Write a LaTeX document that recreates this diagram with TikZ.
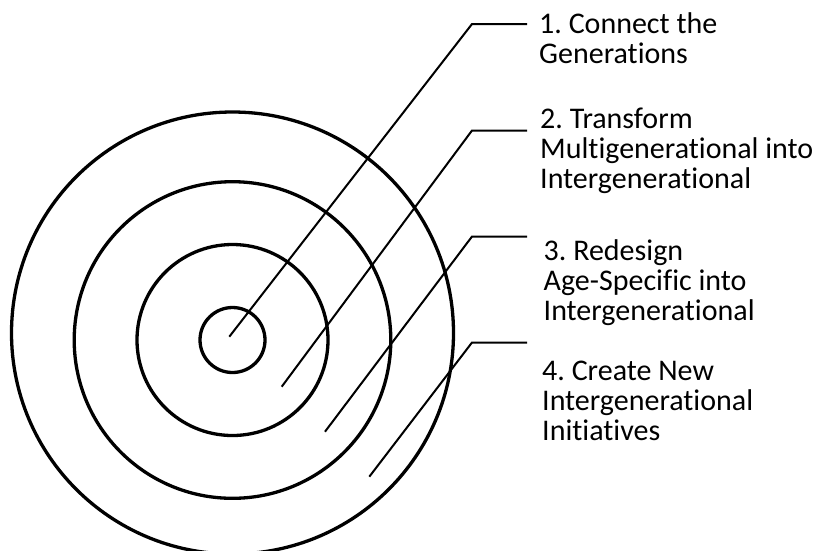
\documentclass[tikz,border=0pt]{standalone}
\usepackage{fontspec}
\setmainfont{Carlito}[Ligatures=NoCommon]
\usetikzlibrary{positioning}
\frenchspacing

\begin{document}
\begin{tikzpicture}[x=1pt, y=-1pt]
  \tikzset{ring/.style={draw, line width=3.3pt},
           leader/.style={draw, line width=2pt},
           ringtext/.style={anchor=base west, align=left, inner sep=0pt,
                            font=\fontsize{30}{30}\selectfont}}
  \useasboundingbox (0,0) rectangle (813,550);
  % target rings
  \coordinate (o) at (232.5,340);
  \coordinate (oo) at (232.5,333);
  \draw[ring] (o) circle[radius=32.5];
  \draw[ring] (o) circle[radius=95.5];
  \draw[ring] (o) circle[radius=158.3];
  \draw[ring] (oo) circle[radius=221];
  % labels (anchored on the last baseline)
  \node[ringtext] (t1) at (539,63) {1. Connect the\\Generations};
  \node[ringtext] (t2) at (540,188) {2. Transform\\Multigenerational into\\Intergenerational};
  \node[ringtext] (t3) at (543.5,320) {3. Redesign\\Age-Specific into\\Intergenerational};
  \node[ringtext] (t4) at (542,440) {4. Create New\\Intergenerational\\Initiatives};
  % leaders
  \coordinate (s1) at (229.3,336.7);
  \coordinate (s2) at (281.7,386.7);
  \coordinate (s3) at (325,431.7);
  \coordinate (s4) at (369.3,476.7);
  \coordinate (e1) at (527,24);
  \coordinate (e2) at (527,130.5);
  \coordinate (e3) at (527,236.5);
  \coordinate (e4) at (527,342.5);
  \draw[leader] (s1) -- (472,24) -- (e1);
  \draw[leader] (s2) -- (472,130.5) -- (e2);
  \draw[leader] (s3) -- (472,236.5) -- (e3);
  \draw[leader] (s4) -- (472,342.5) -- (e4);
\end{tikzpicture}
\end{document}
